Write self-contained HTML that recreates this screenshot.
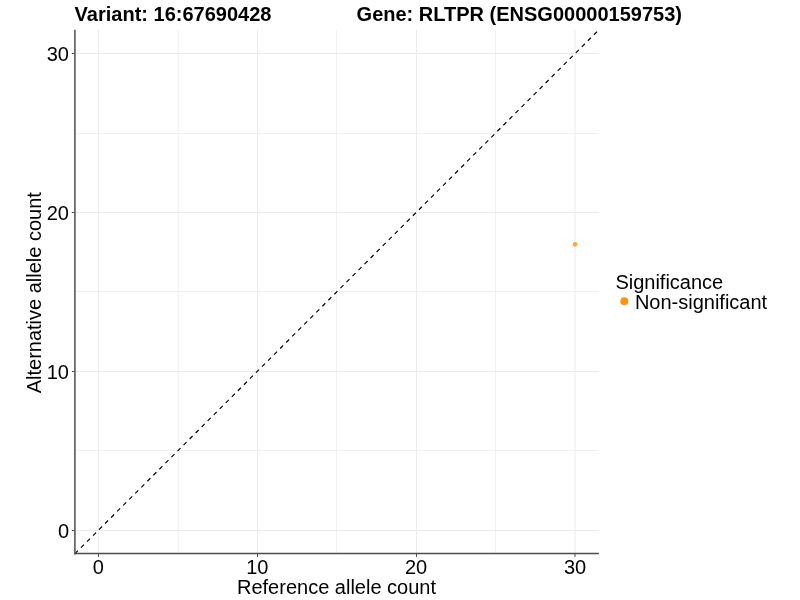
<!DOCTYPE html>
<html>
<head>
<meta charset="utf-8">
<title>Allele count plot</title>
<style>
  html, body { margin: 0; padding: 0; background: #ffffff; }
  body { width: 800px; height: 600px; overflow: hidden; }
  svg { display: block; will-change: transform; }
  text { font-family: "Liberation Sans", sans-serif; fill: #000000; }
  .t20 { font-size: 20px; }
  .bold { font-weight: bold; }
  .grid { stroke: #ebebeb; stroke-width: 1; fill: none; }
  .axis { stroke: #4d4d4d; stroke-width: 1.5; fill: none; }
  .tick { stroke: #4d4d4d; stroke-width: 1; fill: none; }
  .minor { stroke: #f1f1f1; }
</style>
</head>
<body>
<svg width="800" height="600" viewBox="0 0 800 600">
  <rect x="0" y="0" width="800" height="600" fill="#ffffff"/>

  <!-- gridlines: minor -->
  <g class="grid minor">
    <line x1="178.3" y1="29.8" x2="178.3" y2="553.8"/>
    <line x1="336.5" y1="29.8" x2="336.5" y2="553.8"/>
    <line x1="495.5" y1="29.8" x2="495.5" y2="553.8"/>
    <line x1="74.6" y1="450.5" x2="598.9" y2="450.5"/>
    <line x1="74.6" y1="291.5" x2="598.9" y2="291.5"/>
    <line x1="74.6" y1="133.5" x2="598.9" y2="133.5"/>
  </g>
  <!-- gridlines: major -->
  <g class="grid">
    <line x1="98.5" y1="29.8" x2="98.5" y2="553.8"/>
    <line x1="257.5" y1="29.8" x2="257.5" y2="553.8"/>
    <line x1="416.5" y1="29.8" x2="416.5" y2="553.8"/>
    <line x1="575.0" y1="29.8" x2="575.0" y2="553.8"/>
    <line x1="74.6" y1="530.5" x2="598.9" y2="530.5"/>
    <line x1="74.6" y1="371.5" x2="598.9" y2="371.5"/>
    <line x1="74.6" y1="212.5" x2="598.9" y2="212.5"/>
    <line x1="74.6" y1="53.5" x2="598.9" y2="53.5"/>
  </g>

  <!-- dashed identity line -->
  <line x1="74.57" y1="554.05" x2="598.85" y2="29.77" stroke="#000000" stroke-width="1.18" stroke-dasharray="4.267 4.267" stroke-dashoffset="-0.5" fill="none"/>

  <!-- data point -->
  <circle cx="575" cy="244.3" r="2.35" fill="#ff9410" fill-opacity="0.8"/>

  <!-- axis lines -->
  <line class="axis" x1="74.9" y1="29.8" x2="74.9" y2="554.4"/>
  <line class="axis" x1="74.2" y1="553.6" x2="598.9" y2="553.6"/>

  <!-- ticks -->
  <g class="tick">
    <line x1="71.8" y1="530.5" x2="74.6" y2="530.5"/>
    <line x1="71.8" y1="371.5" x2="74.6" y2="371.5"/>
    <line x1="71.8" y1="212.5" x2="74.6" y2="212.5"/>
    <line x1="71.8" y1="53.5" x2="74.6" y2="53.5"/>
    <line x1="98.5" y1="554" x2="98.5" y2="556.9"/>
    <line x1="257.5" y1="554" x2="257.5" y2="556.9"/>
    <line x1="416.5" y1="554" x2="416.5" y2="556.9"/>
    <line x1="575.0" y1="554" x2="575.0" y2="556.9"/>
  </g>

  <!-- y tick labels -->
  <g class="t20" text-anchor="end">
    <text x="69.0" y="537.9">0</text>
    <text x="69.0" y="379.0">10</text>
    <text x="69.0" y="220.2">20</text>
    <text x="69.0" y="61.3">30</text>
  </g>
  <!-- x tick labels -->
  <g class="t20" text-anchor="middle">
    <text x="98.4"  y="573.6">0</text>
    <text x="257.3" y="573.6">10</text>
    <text x="416.1" y="573.6">20</text>
    <text x="575.0" y="573.6">30</text>
  </g>

  <!-- axis titles -->
  <text class="t20" text-anchor="middle" x="336.5" y="593.8">Reference allele count</text>
  <text class="t20" text-anchor="middle" transform="translate(41.1,292.7) rotate(-90)">Alternative allele count</text>

  <!-- titles -->
  <text class="t20 bold" x="74.6" y="20.65">Variant: 16:67690428</text>
  <text class="t20 bold" x="356.6" y="20.65">Gene: RLTPR (ENSG00000159753)</text>

  <!-- legend -->
  <text class="t20" x="615.4" y="288.5">Significance</text>
  <circle cx="624.3" cy="301.2" r="4.0" fill="#ff9410"/>
  <text class="t20" x="634.9" y="308.5">Non-significant</text>
</svg>
</body>
</html>
